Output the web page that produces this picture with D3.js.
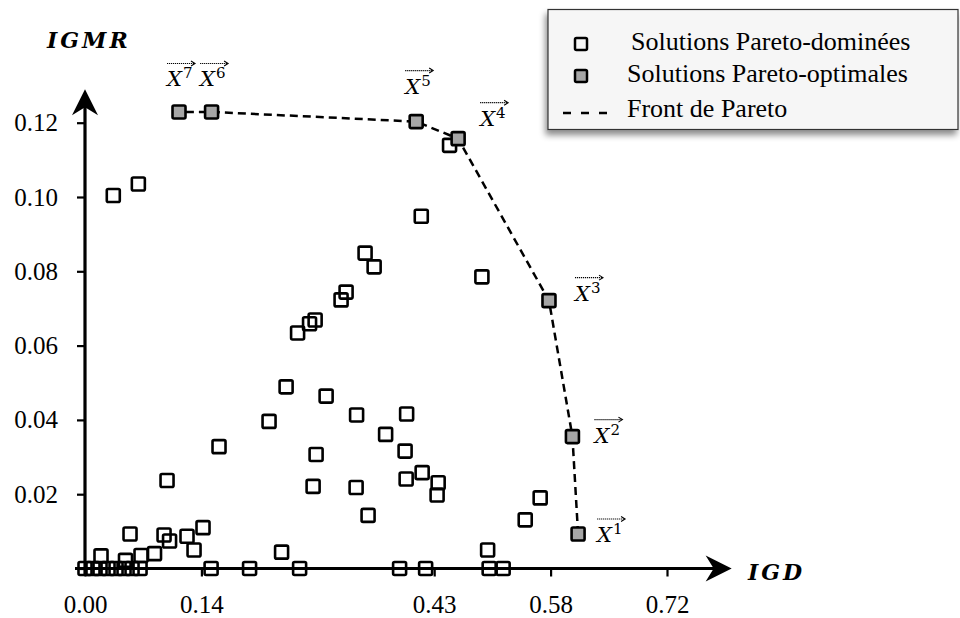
<!DOCTYPE html>
<html>
<head>
<meta charset="utf-8">
<script src="https://cdn.jsdelivr.net/npm/d3@7/dist/d3.min.js"></script>
<style>
  html, body { margin: 0; padding: 0; background: #fff; }
  svg { display: block; }
  text { font-family: "Liberation Serif", "Times New Roman", serif; fill: #000; }
</style>
</head>
<body>
<svg id="chart" width="960" height="618"></svg>
<script>
// ---- data ----------------------------------------------------------------
// Pareto-dominated solutions: IGD and IGMR values
const dominatedIGD = [
  0.035, 0.066,
  0.451, 0.416, 0.491,
  0.3465, 0.3577, 0.323, 0.3168, 0.2847, 0.2778, 0.263,
  0.2488, 0.2983, 0.2277, 0.336, 0.3979, 0.3719, 0.396, 0.4171, 0.3973, 0.4369, 0.4356,
  0.1658, 0.2859, 0.2822, 0.3354, 0.3502, 0.1015,
  0.5631, 0.5446, 0.4981, 0.2432,
  0.0557, 0.0978, 0.1046, 0.1262, 0.146, 0.1349, 0.086, 0.0693, 0.0198, 0.0501,
  0, 0.0099, 0.0186, 0.0285, 0.0384, 0.0483, 0.0582, 0.0681,
  0.156, 0.2036, 0.2655, 0.3892, 0.4214, 0.5, 0.5173
];
const dominatedIGMR = [
  0.1004, 0.1035,
  0.1139, 0.0948, 0.0785,
  0.0849, 0.0812, 0.0744, 0.0723, 0.0669, 0.0659, 0.0634,
  0.0489, 0.0464, 0.0396, 0.0413, 0.0416, 0.0361, 0.0316, 0.0258, 0.0241, 0.0231, 0.0198,
  0.0328, 0.0307, 0.0221, 0.0218, 0.0143, 0.0237,
  0.019, 0.0131, 0.005, 0.0044,
  0.0093, 0.009, 0.0074, 0.0087, 0.011, 0.005, 0.004, 0.0035, 0.0034, 0.0022,
  0, 0, 0, 0, 0, 0, 0, 0,
  0, 0, 0, 0, 0, 0, 0
];

// Pareto-optimal solutions X1..X7 (in front order)
const optimalNames = ["1", "2", "3", "4", "5", "6", "7"];
const optimalIGD  = [0.610, 0.603, 0.574, 0.4616, 0.4097, 0.1566, 0.1163];
const optimalIGMR = [0.0093, 0.0355, 0.0721, 0.1157, 0.1203, 0.1229, 0.1229];

const xTickValues = [0, 0.144, 0.432, 0.576, 0.72];
const xTickLabels = ["0.00", "0.14", "0.43", "0.58", "0.72"];
const yTickValues = [0, 0.02, 0.04, 0.06, 0.08, 0.10, 0.12];
const yTickLabels = ["", "0.02", "0.04", "0.06", "0.08", "0.10", "0.12"];

const legendLabels = ["Solutions Pareto-dominées", "Solutions Pareto-optimales", "Front de Pareto"];

// ---- layout --------------------------------------------------------------
const svg = d3.select("#chart");
const x = d3.scaleLinear().domain([0, 0.72]).range([85, 667]);
const y = d3.scaleLinear().domain([0, 0.12]).range([568.5, 122.7]);
const SQ = 13;

const defs = svg.append("defs");
const shadow = defs.append("filter").attr("id", "legendShadow")
  .attr("x", "-10%").attr("y", "-20%").attr("width", "130%").attr("height", "160%");
shadow.append("feDropShadow").attr("dx", -2).attr("dy", 5)
  .attr("stdDeviation", 3).attr("flood-color", "#000").attr("flood-opacity", 0.45);

// ---- axes ----------------------------------------------------------------
const yAxis = d3.axisLeft(y).tickValues(yTickValues)
  .tickFormat((d, i) => yTickLabels[i]).tickSize(8).tickPadding(19);
const gy = svg.append("g").attr("transform", `translate(${x(0)},0)`).call(yAxis);
gy.select(".domain").remove();
gy.selectAll(".tick line").attr("stroke", "#000").attr("stroke-width", 2.2);
gy.selectAll(".tick text").style("font-size", "25px").style("font-family", "'Liberation Serif', serif");

const xAxis = d3.axisBottom(x).tickValues(xTickValues)
  .tickFormat((d, i) => xTickLabels[i]).tickSize(8).tickPadding(19);
const gx = svg.append("g").attr("transform", `translate(0,${y(0)})`).call(xAxis);
gx.select(".domain").remove();
gx.selectAll(".tick line").attr("stroke", "#000").attr("stroke-width", 2.2);
gx.selectAll(".tick text").style("font-size", "25px").style("font-family", "'Liberation Serif', serif");

// axis lines with arrow heads
const yTop = y(0.129), xEnd = x(0.80);
const x0 = x(0), y0 = y(0);
svg.append("line").attr("x1", x0).attr("x2", x0).attr("y1", y0 + 6).attr("y2", yTop + 14)
  .attr("stroke", "#000").attr("stroke-width", 3.2);
svg.append("path")
  .attr("d", `M${x0},${yTop} L${x0 - 13},${yTop + 26} L${x0},${yTop + 18} L${x0 + 13},${yTop + 26} Z`)
  .attr("fill", "#000");
svg.append("line").attr("x1", x0 - 10).attr("x2", xEnd - 14).attr("y1", y0).attr("y2", y0)
  .attr("stroke", "#000").attr("stroke-width", 3.2);
svg.append("path")
  .attr("d", `M${xEnd},${y0} L${xEnd - 26},${y0 - 13} L${xEnd - 18},${y0} L${xEnd - 26},${y0 + 13} Z`)
  .attr("fill", "#000");

const axisTitle = (tx, ty, s) => svg.append("text").attr("x", tx).attr("y", ty)
  .style("font-family", "'DejaVu Serif', serif")
  .style("font-size", "22px").style("font-weight", "bold").style("font-style", "italic")
  .style("letter-spacing", "3px").text(s);
axisTitle(47, 48, "IGMR");
axisTitle(748, 580, "IGD");

// ---- Pareto front (dashed) -------------------------------------------------
const front = optimalIGD.map((v, i) => [v, optimalIGMR[i]]);
svg.append("path")
  .datum(front)
  .attr("d", d3.line().x(d => x(d[0])).y(d => y(d[1])))
  .attr("fill", "none").attr("stroke", "#000").attr("stroke-width", 2.5)
  .attr("stroke-dasharray", "8,5");

// ---- dominated solutions (hollow squares) --------------------------------
const dominated = dominatedIGD.map((v, i) => [v, dominatedIGMR[i]]);
svg.append("g").selectAll("rect").data(dominated).join("rect")
  .attr("x", d => x(d[0]) - SQ / 2).attr("y", d => y(d[1]) - SQ / 2)
  .attr("width", SQ).attr("height", SQ).attr("rx", 1.5)
  .attr("fill", "none").attr("stroke", "#000").attr("stroke-width", 2.6);

// ---- optimal solutions (grey squares) ------------------------------------
svg.append("g").selectAll("rect").data(front).join("rect")
  .attr("x", d => x(d[0]) - SQ / 2).attr("y", d => y(d[1]) - SQ / 2)
  .attr("width", SQ).attr("height", SQ).attr("rx", 1.5)
  .attr("fill", "#a6a6a6").attr("stroke", "#000").attr("stroke-width", 2.6);

// vector labels X⃗ⁱ placed beside each optimal point
const labelOffset = {
  "1": [19, 8], "2": [22, 6], "3": [26, 0], "4": [22, -13],
  "5": [-11, -28], "6": [-11.5, -25.5], "7": [-12, -25.5]
};
const labels = svg.append("g");
optimalNames.forEach((name, i) => {
  const px = x(optimalIGD[i]) + labelOffset[name][0];
  const py = y(optimalIGMR[i]) + labelOffset[name][1];
  const t = labels.append("text").attr("x", px).attr("y", py)
    .style("font-family", "'DejaVu Serif', serif");
  t.append("tspan").style("font-style", "italic").style("font-size", "21px").text("X");
  t.append("tspan").attr("dy", -8).attr("dx", 1).style("font-size", "15px").text(name);
  const ay = py - 23;
  labels.append("line").attr("x1", px).attr("x2", px + 27).attr("y1", ay).attr("y2", ay)
    .attr("stroke", "#000").attr("stroke-width", 1.1).attr("stroke-dasharray", "1.2,0.8");
  labels.append("path")
    .attr("d", `M${px + 24},${ay - 2.5} L${px + 28},${ay} L${px + 24},${ay + 2.5}`)
    .attr("fill", "none").attr("stroke", "#000").attr("stroke-width", 1.1);
});

// ---- legend --------------------------------------------------------------
const lg = svg.append("g");
lg.append("rect").attr("x", 548).attr("y", 9.5).attr("width", 410).attr("height", 120)
  .attr("fill", "#f6f6f6").attr("stroke", "#333").attr("stroke-width", 1.2)
  .attr("filter", "url(#legendShadow)");
lg.append("rect").attr("x", 581 - 6).attr("y", 44 - 6).attr("width", 12).attr("height", 12)
  .attr("rx", 1.5).attr("fill", "none").attr("stroke", "#000").attr("stroke-width", 2.5);
lg.append("rect").attr("x", 581 - 6).attr("y", 76 - 6).attr("width", 12).attr("height", 12)
  .attr("rx", 1.5).attr("fill", "#a6a6a6").attr("stroke", "#000").attr("stroke-width", 2.5);
lg.append("line").attr("x1", 563).attr("x2", 608).attr("y1", 113).attr("y2", 113)
  .attr("stroke", "#000").attr("stroke-width", 2.5).attr("stroke-dasharray", "8,10");
const legendY = [50, 82, 117];
const legendX = [631, 627, 627];
legendLabels.forEach((s, i) => {
  lg.append("text").attr("x", legendX[i]).attr("y", legendY[i])
    .style("font-size", "26px").text(s);
});
</script>
</body>
</html>
